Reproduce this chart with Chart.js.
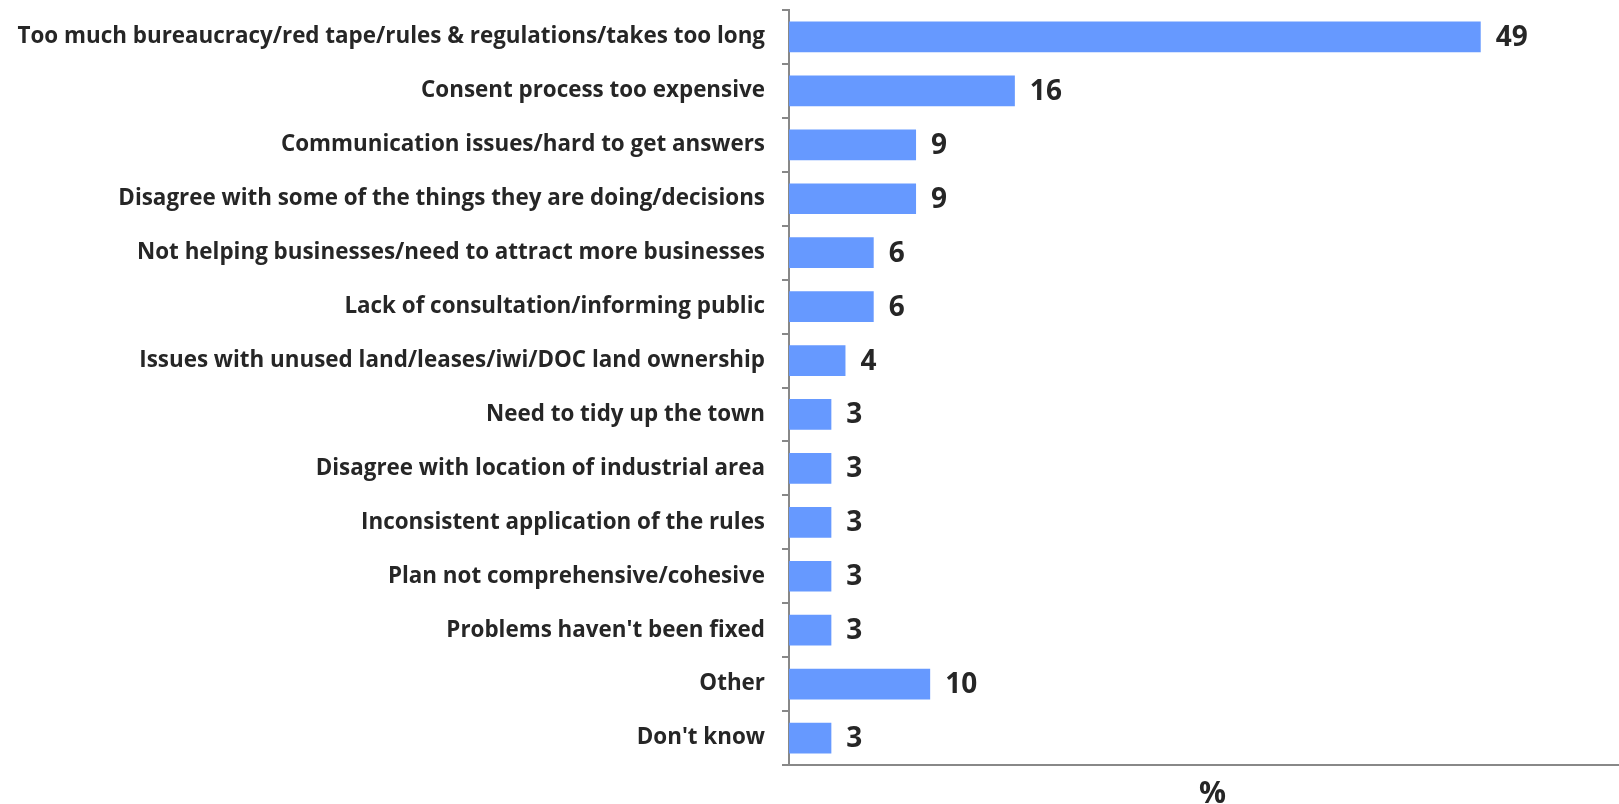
<!DOCTYPE html>
<html lang="en">
<head>
  <meta charset="UTF-8" />
  <title>Reasons for dissatisfaction</title>
  <script src="https://cdn.jsdelivr.net/npm/chart.js"></script>
  <style>
    html, body { margin: 0; padding: 0; background: #fff; overflow: hidden; }
    /* the value axis runs a little past the right edge of the window */
    #wrap { width: 1636px; height: 804px; position: relative; }
  </style>
</head>
<body>
  <div id="wrap"><canvas id="chart"></canvas></div>

  <script>
    // Categories and percentages
    const reasons = [
      'Too much bureaucracy/red tape/rules & regulations/takes too long',
      'Consent process too expensive',
      'Communication issues/hard to get answers',
      'Disagree with some of the things they are doing/decisions',
      'Not helping businesses/need to attract more businesses',
      'Lack of consultation/informing public',
      'Issues with unused land/leases/iwi/DOC land ownership',
      'Need to tidy up the town',
      'Disagree with location of industrial area',
      'Inconsistent application of the rules',
      'Plan not comprehensive/cohesive',
      "Problems haven't been fixed",
      'Other',
      "Don't know"
    ];
    const percents = [49, 16, 9, 9, 6, 6, 4, 3, 3, 3, 3, 3, 10, 3];
    const axisMax = 60;

    const FONT = "'Open Sans', sans-serif";
    const TEXT = '#262626';
    const AXIS = '#888888';

    // writes the number just past the end of each bar
    const valueLabels = {
      id: 'valueLabels',
      afterDatasetsDraw(chart) {
        const ctx = chart.ctx;
        const meta = chart.getDatasetMeta(0);
        ctx.save();
        ctx.font = `bold 28px ${FONT}`;
        ctx.fillStyle = TEXT;
        ctx.textAlign = 'left';
        ctx.textBaseline = 'middle';
        meta.data.forEach((bar, i) => {
          ctx.fillText(String(percents[i]), bar.x + 15, bar.y + 1);
        });
        ctx.restore();
      }
    };

    new Chart(document.getElementById('chart'), {
      type: 'bar',
      data: {
        labels: reasons,
        datasets: [{
          data: percents,
          backgroundColor: '#6699ff',
          borderWidth: 0,
          categoryPercentage: 1,
          barPercentage: 0.57
        }]
      },
      options: {
        indexAxis: 'y',
        responsive: true,
        maintainAspectRatio: false,
        animation: false,
        layout: { padding: { top: 10, right: 0, left: 0, bottom: 0 } },
        plugins: {
          legend: { display: false },
          tooltip: { enabled: false }
        },
        scales: {
          x: {
            min: 0,
            max: axisMax,
            grid: { display: false },
            border: { display: true, color: AXIS, width: 2 },
            ticks: { display: false },
            title: {
              display: true,
              text: '%',
              color: TEXT,
              font: { family: FONT, size: 30, weight: 'bold' },
              padding: { top: 0, bottom: -8 }
            },
            afterFit(scale) { scale.height = 39; }
          },
          y: {
            grid: {
              display: true,
              drawOnChartArea: false,
              drawTicks: true,
              tickLength: 7,
              color: AXIS,
              lineWidth: 2,
              offset: true
            },
            border: { display: true, color: AXIS, width: 2 },
            ticks: {
              color: TEXT,
              padding: 17,
              autoSkip: false,
              font: { family: FONT, size: 22.4, weight: 'bold' }
            },
            afterFit(scale) {
              scale.width = 789;
              scale.paddingTop = 0;
              scale.paddingBottom = 0;
            }
          }
        }
      },
      plugins: [valueLabels]
    });
  </script>
</body>
</html>
